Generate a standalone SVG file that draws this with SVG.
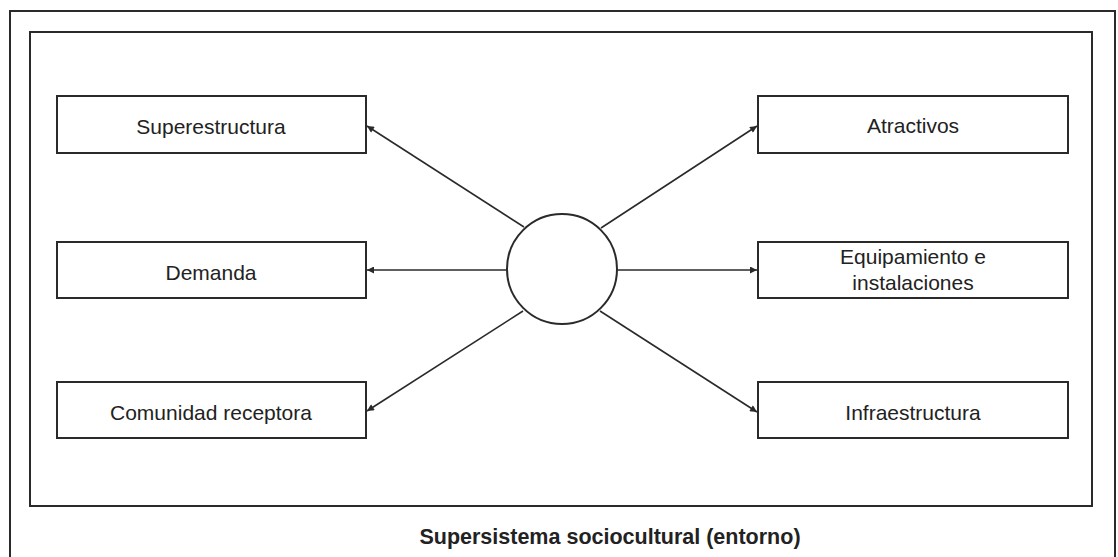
<svg xmlns="http://www.w3.org/2000/svg" width="1118" height="557" viewBox="0 0 1118 557">
<style>
.frame{fill:none;stroke:#2a2a2a;stroke-width:2}
.box{fill:#fff;stroke:#2a2a2a;stroke-width:2}
.lbl{font-family:"Liberation Sans",Arial,sans-serif;font-size:21px;fill:#222;text-anchor:middle}
.ttl{font-family:"Liberation Sans",Arial,sans-serif;font-size:21.5px;font-weight:bold;fill:#222;text-anchor:middle}
.con{stroke:#2a2a2a;stroke-width:1.6;fill:none;marker-end:url(#ah)}
</style>
<defs>
<marker id="ah" viewBox="0 0 10 10" refX="10" refY="5" markerWidth="9" markerHeight="7" markerUnits="userSpaceOnUse" orient="auto">
<path d="M0,0 L10,5 L0,10 z" fill="#2a2a2a"/>
</marker>
</defs>
<rect width="1118" height="557" fill="#fff"/>
<g id="outer-frame">
<path class="frame" d="M10,560 L10,11 L1115,11 L1115,560"/>
</g>
<g id="inner-frame">
<rect class="frame" x="30" y="32" width="1062" height="474"/>
</g>
<g id="connectors">
<line class="con" x1="524" y1="227" x2="367" y2="126"/>
<line class="con" x1="507" y1="270" x2="367" y2="270"/>
<line class="con" x1="523" y1="311" x2="367" y2="411"/>
<line class="con" x1="601" y1="228" x2="757" y2="126"/>
<line class="con" x1="617" y1="270" x2="757" y2="270"/>
<line class="con" x1="600" y1="311" x2="757" y2="412"/>
</g>
<g id="center">
<circle cx="562" cy="269" r="55" fill="#fff" stroke="#2a2a2a" stroke-width="2"/>
</g>
<g id="superestructura">
<rect class="box" x="57" y="96" width="309" height="57"/>
<text class="lbl" x="211" y="134">Superestructura</text>
</g>
<g id="demanda">
<rect class="box" x="57" y="242" width="309" height="56"/>
<text class="lbl" x="211" y="280">Demanda</text>
</g>
<g id="comunidad">
<rect class="box" x="57" y="382" width="309" height="56"/>
<text class="lbl" x="211" y="420">Comunidad receptora</text>
</g>
<g id="atractivos">
<rect class="box" x="758" y="96" width="310" height="57"/>
<text class="lbl" x="913" y="133">Atractivos</text>
</g>
<g id="equipamiento">
<rect class="box" x="758" y="242" width="310" height="56"/>
<text class="lbl" x="913" y="264">Equipamiento e</text>
<text class="lbl" x="913" y="290">instalaciones</text>
</g>
<g id="infraestructura">
<rect class="box" x="758" y="382" width="310" height="56"/>
<text class="lbl" x="913" y="420">Infraestructura</text>
</g>
<g id="title">
<text class="ttl" x="610" y="544">Supersistema sociocultural (entorno)</text>
</g>
</svg>
